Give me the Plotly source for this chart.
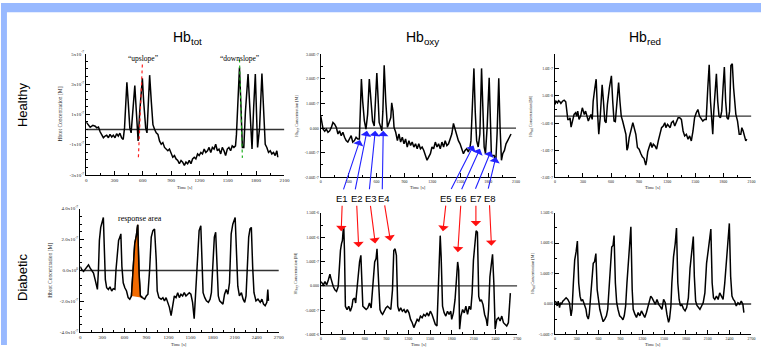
import numpy as np
import plotly.graph_objects as go

# ---------------- data (time in s, concentration in units of 1e-7 M) ----------------
HT_TOT_T = [0,25,42,70,95,112,130,147,165,182,200,217,235,252,270,287,305,322,340,357,375,392,406,420,431,445,462,476,490,504,515,525,539,550,567,581,595,609,630,644,658,672,690,707,725,742,760,777,795,812,830,847,865,882,900,917,935,952,970,987,1005,1022,1040,1057,1075,1092,1110,1127,1145,1162,1180,1197,1215,1232,1250,1267,1285,1302,1320,1337,1355,1372,1390,1407,1425,1442,1460,1477,1495,1512,1530,1547,1565,1582,1592,1606,1624,1638,1655,1670,1687,1715,1729,1746,1757,1774,1792,1816,1837,1862,1897,1914,1932,1950,1967,1985,2002,2020,2030]
HT_TOT_V = [0.49,0.28,0.15,0.28,0.22,0.11,0.17,-0.15,-0.32,-0.54,-0.43,-0.37,-0.54,-0.32,-0.49,-0.37,-0.54,-0.28,-0.43,-0.24,-0.54,-0.65,0.11,1.83,3.12,1.83,0.11,-0.22,0.97,2.26,2.90,1.83,-0.11,-0.75,1.18,2.69,3.38,1.83,0.11,-0.22,1.83,3.59,1.83,0.32,0,-0.22,-0.32,-0.75,-0.97,-0.86,-1.18,-1.29,-1.40,-1.29,-1.61,-1.83,-1.72,-1.94,-2.04,-2.26,-2.04,-2.15,-2.37,-2.15,-2.26,-2.04,-2.26,-1.94,-1.83,-1.94,-1.61,-1.72,-1.51,-1.61,-1.29,-1.51,-1.40,-1.18,-1.51,-1.18,-1.29,-0.97,-1.40,-1.29,-1.61,-1.18,-1.40,-1.72,-1.29,-1.18,-1.40,-1.08,-1.18,-1.08,-0.32,1.83,4.09,1.83,-1.18,-1.18,1.18,3.66,1.83,-0.75,-1.29,1.40,3.66,-1.18,0.11,3.70,-0.97,-1.18,-1.51,-1.40,-1.61,-1.51,-1.72,-1.40,-1.83]

HT_OXY_T = [0,11,25,43,60,78,96,114,131,149,167,185,202,220,238,256,273,291,309,327,344,362,380,398,415,426,437,451,469,486,504,522,540,557,575,593,603,618,628,646,657,668,682,699,717,735,753,763,777,788,806,824,841,859,877,895,912,930,948,966,983,1001,1019,1037,1054,1072,1090,1108,1125,1143,1161,1179,1196,1214,1232,1250,1267,1285,1303,1321,1338,1356,1374,1392,1409,1427,1438,1452,1463,1480,1498,1516,1534,1551,1569,1587,1605,1615,1629,1647,1661,1676,1693,1711,1729,1743,1757,1771,1789,1811,1825,1835,1864,1882,1896,1907,1914,1928,1943,1957,1975,1992,2010,2028,2046]
HT_OXY_V = [0.49,0.29,-0.04,-0.13,-0.04,-0.17,-0.11,0.03,0.23,0.16,0.03,-0.24,-0.11,-0.31,-0.17,-0.37,-0.51,-0.57,-0.44,-0.31,-0.57,-0.51,-0.37,-0.44,-0.44,1.09,2.0,1.09,0.29,-0.04,0.56,2.0,1.09,0.29,0.09,1.76,2.24,1.09,0.23,0.03,-0.11,0.69,2.56,1.09,0.03,0.23,0.43,1.03,0.69,0.03,-0.17,-0.51,-0.24,-0.57,-0.37,-0.64,-0.44,-0.77,-0.51,-0.71,-0.57,-0.77,-0.64,-0.84,-0.64,-0.84,-0.77,-0.91,-1.11,-1.31,-1.17,-1.04,-0.77,-0.84,-0.57,-0.77,-0.64,-0.84,-0.57,-0.77,-0.51,-0.71,-0.64,-0.37,-0.24,0.19,0.03,-0.17,-0.24,-0.51,-0.64,-0.84,-1.04,-0.91,-0.84,-0.97,-0.77,-0.51,1.09,2.43,0.69,-0.51,-0.77,-0.24,2.43,1.09,-0.77,-1.04,0.03,2.05,0.43,-1.11,-1.11,-1.37,-0.24,1.23,2.03,0.03,-1.31,-1.04,-0.91,-0.64,-0.51,-0.37,-0.24]

HT_RED_T = [0,11,28,39,53,64,81,99,116,127,138,152,162,173,187,205,222,233,244,258,275,293,304,314,328,339,357,371,385,399,409,427,441,455,469,484,505,519,533,547,561,582,604,618,632,646,667,681,695,709,724,738,759,770,780,794,808,822,833,847,865,882,900,918,935,953,971,981,992,1006,1024,1038,1052,1070,1087,1105,1123,1140,1158,1175,1186,1204,1218,1232,1246,1264,1281,1299,1317,1334,1352,1370,1387,1405,1423,1440,1458,1476,1493,1511,1528,1546,1564,1581,1599,1617,1634,1649,1663,1677,1687,1698,1712,1726,1740,1754,1769,1783,1797,1811,1825,1839,1853,1867,1881,1896,1910,1924,1934,1952,1970,1987,1998,2012,2023,2040,2051]
HT_RED_V = [0.21,0.27,0.24,0.28,0.26,0.23,0.27,0.29,0.26,0.09,-0.06,-0.06,-0.03,-0.20,-0.12,0.03,0.06,0,0.09,-0.06,0,0.15,0.09,0.03,0.09,0,-0.09,-0.03,0.03,-0.06,0.27,0.51,0.67,0.09,-0.33,-0.03,0.57,0.27,-0.09,-0.12,0.21,0.51,0.73,0.27,-0.09,-0.10,0.27,0.61,0.27,0,-0.09,-0.18,-0.33,-0.62,-0.57,-0.39,-0.30,-0.18,-0.12,-0.21,-0.33,-0.57,-0.60,-0.68,-0.74,-0.77,-0.89,-0.80,-0.65,-0.57,-0.48,-0.57,-0.51,-0.54,-0.60,-0.45,-0.33,-0.21,-0.18,-0.12,-0.21,-0.15,-0.18,-0.21,-0.12,-0.09,-0.18,-0.09,-0.03,-0.03,-0.06,-0.27,-0.36,-0.33,-0.42,-0.36,-0.45,-0.27,-0.03,0.06,0.12,0,-0.06,-0.09,-0.06,-0.06,0.51,0.93,0.27,-0.18,-0.33,0.09,0.51,0.77,0.27,0,-0.03,0.09,0.51,0.89,0.27,-0.03,-0.06,0.09,0.92,0.95,0.51,0.15,0.03,-0.09,-0.33,-0.33,-0.21,-0.27,-0.36,-0.45,-0.42]

DB_TOT_T = [0,22,45,67,90,112,135,157,180,202,216,233,247,260,278,296,314,328,341,359,382,404,427,449,471,485,503,521,539,552,566,584,606,629,651,673,696,718,741,763,781,799,817,844,876,898,920,943,965,988,1010,1033,1046,1069,1100,1123,1145,1167,1190,1212,1235,1257,1279,1302,1325,1347,1369,1392,1414,1437,1459,1482,1504,1527,1549,1572,1594,1616,1639,1652,1670,1693,1715,1742,1765,1783,1805,1823,1841,1859,1877,1895,1917,1940,1962,1985,2007,2029,2052,2074,2106,2124,2142,2164,2191,2214,2236,2254,2272,2290,2308,2326,2344,2362,2389,2416,2447,2470,2492,2514,2537,2550,2559]
DB_TOT_V = [0.25,0.04,-0.06,0.08,0.25,0.36,0.15,0,-0.17,-0.59,-1.02,-1.23,0.04,1.95,2.79,3.22,3.43,1.31,-0.59,-1.12,-1.23,-1.06,-1.33,-1.18,-1.23,0,1.31,1.95,2.16,2.37,0.25,-0.80,-1.12,-1.33,-1.76,-1.86,-1.65,0,1.74,2.26,2.96,-0.17,-1.65,-1.76,-1.86,-1.65,-1.54,0.04,2.16,2.58,2.69,0.68,-1.33,-1.76,-1.86,-1.76,-1.97,-1.76,-2.07,-2.39,-2.92,-2.29,-1.65,-1.76,-1.44,-1.76,-1.54,-1.65,-1.44,-1.65,-1.54,-1.44,-1.54,-2.07,-3.13,-1.23,1.31,2.58,2.90,0.68,-1.44,-1.76,-1.97,-2.07,-1.86,-1.44,0.89,2.16,2.48,0.47,-1.65,-1.97,-2.07,-2.18,-1.54,-1.23,-1.54,-0.80,2.37,3.00,3.43,1.52,-1.02,-1.65,-1.44,-1.86,-2.07,-1.65,0.89,2.16,2.69,2.79,0.25,-1.44,-1.97,-1.86,-2.07,-1.86,-2.18,-2.29,-2.07,-1.23,-1.97]

DB_OXY_T = [0,14,32,54,77,100,122,136,154,168,190,213,236,249,267,281,294,304,313,322,335,358,381,403,426,439,462,476,494,512,530,548,562,575,598,621,643,666,689,702,720,738,757,770,793,811,829,847,870,892,915,938,960,983,1001,1019,1037,1055,1074,1096,1119,1142,1164,1187,1210,1232,1255,1277,1300,1323,1345,1368,1391,1413,1436,1459,1481,1504,1527,1549,1572,1595,1608,1626,1640,1653,1672,1694,1717,1740,1762,1785,1798,1821,1844,1862,1880,1894,1907,1925,1948,1971,1993,2016,2039,2061,2079,2097,2116,2134,2152,2170,2188,2206,2229,2251,2274,2288,2306,2324,2342,2360,2378,2396,2419,2442,2464,2487,2510,2532,2555,2578,2605]
DB_OXY_V = [0.88,0.54,0.20,0.88,0.20,1.22,2.43,1.55,0.54,-0.14,-0.81,-1.15,-0.14,3.92,7.30,8.65,9.33,11.36,12.03,7.30,-4.19,-4.87,-4.19,-5.21,-4.19,-2.84,-2.50,-3.52,-0.14,3.24,4.93,6.29,-1.49,-4.19,-4.53,-4.87,-4.53,-3.52,-4.53,-1.49,2.57,4.93,5.61,7.64,0.54,-4.87,-5.54,-5.88,-5.21,-4.53,-4.19,-4.53,-4.87,-0.81,7.30,7.64,6.29,-4.19,-5.21,-4.53,-5.21,-4.87,-5.54,-4.87,-5.54,-6.90,-7.57,-8.59,-7.91,-6.90,-7.23,-6.22,-6.56,-5.88,-6.22,-5.54,-6.22,-5.21,-5.88,-6.90,-7.91,-8.25,-4.19,4.60,10.34,5.95,-4.19,-5.54,-6.22,-5.21,-5.88,-5.21,-6.90,-5.54,-2.84,2.57,4.93,3.24,-8.92,-6.22,-4.87,-5.54,-4.19,-5.88,-4.19,-4.87,-1.49,5.27,9.33,11.36,11.02,-2.16,-3.18,-2.84,-3.85,-5.88,-6.90,-8.25,-4.87,1.89,4.26,6.49,0.54,-8.92,-6.90,-6.56,-7.23,-6.22,-7.57,-7.91,-8.25,-7.57,-1.49]

DB_RED_T = [5,18,32,45,64,77,91,109,132,154,177,200,222,236,254,272,291,309,327,345,363,381,404,427,440,459,472,490,508,527,545,563,581,599,617,640,663,686,708,726,745,763,781,799,813,831,849,867,890,913,935,953,972,990,1008,1026,1044,1062,1076,1099,1121,1144,1167,1189,1212,1235,1258,1280,1298,1317,1335,1357,1380,1403,1426,1448,1471,1494,1516,1539,1562,1575,1594,1607,1630,1653,1671,1689,1707,1725,1743,1766,1789,1811,1834,1857,1880,1902,1916,1934,1952,1970,1993,2016,2038,2061,2084,2107,2129,2143,2161,2179,2197,2220,2243,2265,2288,2311,2334,2356,2379,2397,2415,2433,2452,2470,2492,2515,2538,2561,2583,2597]
DB_RED_V = [0.48,0.22,-0.32,0.48,-0.59,0.22,-0.05,0.48,0.75,1.02,0.75,0.22,-1.94,-0.86,3.44,7.20,8.55,10.32,3.44,1.29,0.48,0.75,-0.05,-0.86,-1.94,-2.47,-1.67,1.29,3.98,6.67,6.94,8.28,2.37,0.22,-0.86,-1.94,-2.90,-2.47,-1.94,-0.86,2.90,6.13,9.35,9.62,11.24,3.44,0.22,-0.86,-1.94,-2.20,-2.58,-1.94,-0.32,3.44,6.67,9.89,12.69,2.37,-0.86,-1.67,-2.20,-1.40,-1.94,-1.13,-1.67,-2.20,-1.40,-0.32,0.75,1.29,1.02,0.48,-0.05,0.75,-0.05,-0.43,-0.86,0.75,0.22,-1.67,-3.01,-2.47,-0.32,3.44,7.74,9.89,12.47,3.44,0.75,-0.32,-0.05,-0.75,-1.13,-0.59,1.02,5.86,9.09,11.07,4.52,0.48,-0.22,-0.59,-0.86,-0.32,0.22,1.83,6.67,8.82,10.70,12.31,3.44,1.02,0.75,1.29,0.75,1.83,1.29,0.75,3.44,7.20,10.97,13.23,4.52,1.29,0.75,0.48,-0.32,0.22,-0.05,0.48,-0.05,-1.40]

# response area (time window) on the diabetic Hb_tot curve
RESP_T0, RESP_T1 = 690, 850

# event markers
EVENT_LABELS = ["E1", "E2", "E3", "E4", "E5", "E6", "E7", "E8"]
BLUE_TIP_T = [422, 497, 586, 672, 1642, 1712, 1829, 1883]
BLUE_TIP_V = [-0.48, -0.11, -0.11, -0.11, -0.71, -0.84, -0.94, -1.18]
RED_TIP_T = [277, 518, 746, 955, 1677, 1882, 2131, 2345]
RED_TIP_V = [11.26, 7.94, 8.74, 9.26, 11.26, 6.94, 12.26, 8.26]
UPSLOPE_T = [595, 553]
UPSLOPE_V = [4.30, -1.83]
DOWNSLOPE_T = [1624, 1655]
DOWNSLOPE_V = [4.62, -1.87]

TOP_XTICKS = [0, 300, 600, 900, 1200, 1500, 1800, 2100]
BOT_XTICKS = [0, 300, 600, 900, 1200, 1500, 1800, 2100, 2400, 2700]

# ---------------- layout helpers ----------------
W, H = 767, 348
U = 1e-7
SERIF = "Liberation Serif, Times New Roman, serif"
SANS = "Liberation Sans, Arial, sans-serif"


def px(x):
    return x / W


def py(y):
    return 1 - y / H


fig = go.Figure()

panels = [
    ("1", HT_TOT_T, HT_TOT_V, (86, 286), (51.7, 175), 2100),
    ("2", HT_OXY_T, HT_OXY_V, (322.7, 519.8), (52.3, 177.3), 2100),
    ("3", HT_RED_T, HT_RED_V, (559, 757.3), (52.3, 177.3), 2100),
    ("4", DB_TOT_T, DB_TOT_V, (80, 280.4), (209.3, 335), 2700),
    ("5", DB_OXY_T, DB_OXY_V, (323, 521), (213.7, 337.3), 2700),
    ("6", DB_RED_T, DB_RED_V, (559, 757.3), (213.3, 337.3), 2700),
]

yspecs = {
    "1": dict(range=[-3e-7, 5e-7], tickvals=[-3e-7, -1e-7, 1e-7, 3e-7, 5e-7],
              ticktext=["-3x10<sup>-7</sup>", "-1x10<sup>-7</sup>", "1x10<sup>-7</sup>", "3x10<sup>-7</sup>", "5x10<sup>-7</sup>"],
              minor=dict(tickmode="linear", tick0=-3e-7, dtick=0.5e-7), fs=5),
    "2": dict(range=[-2e-7, 3e-7], tickvals=[-2e-7, -1e-7, 0, 1e-7, 2e-7, 3e-7],
              ticktext=["-2.00E-7", "-1.00E-7", "0.000", "1.00E-7", "2.00E-7", "3.00E-7"],
              minor=dict(tickmode="linear", tick0=-2e-7, dtick=0.5e-7), fs=4),
    "3": dict(range=[-1.11e-7, 1.12e-7], tickvals=[0.87e-7, 0.37e-7, -0.13e-7, -0.62e-7, -1.11e-7],
              ticktext=["1.0E-7", "5.0E-8", "-5.0E-8", "-1.0E-7", "-2.0E-7"],
              minor=dict(tickmode="array", tickvals=[1.12e-7, 0.62e-7, 0.12e-7, -0.375e-7, -0.865e-7]), fs=4),
    "4": dict(range=[-4e-7, 4e-7], tickvals=[-4e-7, -2e-7, 0, 2e-7, 4e-7],
              ticktext=["-4.0x10<sup>-7</sup>", "-2.0x10<sup>-7</sup>", "0.0x10<sup>0</sup>", "2.0x10<sup>-7</sup>", "4.0x10<sup>-7</sup>"],
              minor=dict(tickmode="linear", tick0=-4e-7, dtick=0.5e-7), fs=5),
    "5": dict(range=[-1e-6, 1.5e-6], tickvals=[-1e-6, -5e-7, 0, 5e-7, 1e-6, 1.5e-6],
              ticktext=["-1.00E-6", "-5.00E-7", "0.000", "5.00E-7", "1.00E-6", "1.50E-6"],
              minor=dict(tickmode="linear", tick0=-1e-6, dtick=2.5e-7), fs=4),
    "6": dict(range=[-5e-7, 1.5e-6], tickvals=[-5e-7, 0, 5e-7, 1e-6, 1.5e-6],
              ticktext=["-5.00E-7", "0.000", "5.00E-7", "1.00E-6", "1.50E-6"],
              minor=dict(tickmode="linear", tick0=-5e-7, dtick=2.5e-7), fs=4),
}

shapes = []
annotations = []
layout_axes = {}

for name, t, v, (x0, x1), (ytop, ybot), xmax in panels:
    xa = "x" if name == "1" else "x" + name
    ya = "y" if name == "1" else "y" + name
    fig.add_trace(go.Scatter(x=t, y=np.array(v) * U, mode="lines",
                             line=dict(color="black", width=1.5),
                             xaxis=xa, yaxis=ya, showlegend=False, hoverinfo="skip"))
    ys = yspecs[name]
    xticks = TOP_XTICKS if xmax == 2100 else BOT_XTICKS
    layout_axes["xaxis" + ("" if name == "1" else name)] = dict(
        domain=[px(x0), px(x1)], range=[0, xmax], anchor=ya,
        showline=True, linecolor="black", linewidth=1.3, showgrid=False, zeroline=False,
        ticks="inside", ticklen=4, tickwidth=1, tickcolor="black",
        tickmode="array", tickvals=xticks, ticktext=[str(k) for k in xticks],
        minor=dict(ticks="inside", ticklen=2, tickmode="linear", tick0=0, dtick=150, tickcolor="black"),
        tickfont=dict(family=SERIF, size=ys["fs"], color="#222"), fixedrange=True)
    layout_axes["yaxis" + ("" if name == "1" else name)] = dict(
        domain=[py(ybot), py(ytop)], range=ys["range"], anchor=xa,
        showline=True, linecolor="black", linewidth=1.3, showgrid=False, zeroline=False,
        ticks="inside", ticklen=4, tickwidth=1, tickcolor="black",
        tickmode="array", tickvals=ys["tickvals"], ticktext=ys["ticktext"],
        minor=dict(ticks="inside", ticklen=2, tickcolor="black", **ys["minor"]),
        tickfont=dict(family=SERIF, size=ys["fs"], color="#222"), fixedrange=True)
    shapes.append(dict(type="line", xref=xa, yref=ya, x0=0, x1=xmax, y0=0, y1=0,
                       line=dict(color="#333", width=1.4), layer="below"))

# response area fill
rt = np.array(DB_TOT_T)
rv = np.array(DB_TOT_V)
m = (rt >= RESP_T0) & (rt <= RESP_T1)
fig.add_trace(go.Scatter(x=rt[m], y=rv[m] * U, mode="lines", fill="toself",
                         fillcolor="#f26a00", line=dict(color="#f26a00", width=0.5),
                         xaxis="x4", yaxis="y4", showlegend=False, hoverinfo="skip"))
fig.add_trace(go.Scatter(x=rt[m], y=rv[m] * U, mode="lines", line=dict(color="black", width=1.5),
                         xaxis="x4", yaxis="y4", showlegend=False, hoverinfo="skip"))

# upslope / downslope markers
fig.add_trace(go.Scatter(x=UPSLOPE_T, y=np.array(UPSLOPE_V) * U, mode="lines",
                         line=dict(color="#ff2020", width=1.2, dash="dot"),
                         xaxis="x", yaxis="y", showlegend=False, hoverinfo="skip"))
fig.add_trace(go.Scatter(x=DOWNSLOPE_T, y=np.array(DOWNSLOPE_V) * U, mode="lines",
                         line=dict(color="#20b020", width=1.2, dash="dot"),
                         xaxis="x", yaxis="y", showlegend=False, hoverinfo="skip"))

# blue band frame
shapes.append(dict(type="rect", xref="paper", yref="paper", x0=0, x1=1, y0=py(9.5), y1=1,
                   fillcolor="#98b9ff", line=dict(width=0), layer="below"))
shapes.append(dict(type="rect", xref="paper", yref="paper", x0=0, x1=px(6), y0=0, y1=1,
                   fillcolor="#98b9ff", line=dict(width=0), layer="below"))


def txt(x, y, s, size, family=SANS, angle=0, color="black"):
    annotations.append(dict(x=px(x), y=py(y), xref="paper", yref="paper", text=s, showarrow=False,
                            textangle=angle, font=dict(family=family, size=size, color=color),
                            xanchor="center", yanchor="middle"))


# column / row titles
txt(188, 36, "Hb<sub>tot</sub>", 14)
txt(425, 36, "Hb<sub>oxy</sub>", 14)
txt(650, 36, "Hb<sub>red</sub>", 14)
txt(21, 103, "Healthy", 13, angle=-90)
txt(21, 279, "Diabetic", 13, angle=-90)

# axis titles
for xc, yc in [(186, 188), (421, 188), (658, 188), (180, 347), (422, 347), (658, 347)]:
    txt(xc, yc, "Time [s]", 4.5, family=SERIF, color="#222")
txt(60, 113, "Hbtot Concentration [M]", 5.5, family=SERIF, angle=-90, color="#222")
txt(299, 115, "Hb<sub>oxy</sub> Concentration [M]", 4.2, family=SERIF, angle=-90, color="#222")
txt(535, 115, "Hb<sub>red</sub> Concentration [M]", 4.2, family=SERIF, angle=-90, color="#222")
txt(50, 272, "Hbtot Concentration [M]", 5.5, family=SERIF, angle=-90, color="#222")
txt(298, 275, "Hb<sub>oxy</sub> Concentration [M]", 4.2, family=SERIF, angle=-90, color="#222")
txt(537, 275, "Hb<sub>red</sub> Concentration [M]", 4.2, family=SERIF, angle=-90, color="#222")

# in-plot labels
txt(143, 56, "\u201cupslope\u201d", 7.5, family=SERIF)
txt(241, 56, "\u201cdownslope\u201d", 7.5, family=SERIF)
txt(140, 219, "response area", 8, family=SERIF)

# event labels and arrows
E_LABEL_X = [344, 359, 373, 387, 449, 464, 479, 493]
BLUE_AX = [-17, -12, -6, -1, -23, -19, -16, -8]
BLUE_AY = [51, 60, 60, 60, 45, 42, 39, 33]
RED_AX = [1, -2, -5, -6, 3, 3, 0, -2]
RED_AY = [-27, -43, -39, -37, -27, -48, -22, -42]
for i, lab in enumerate(EVENT_LABELS):
    txt(E_LABEL_X[i], 198.5, lab, 9.5)
    annotations.append(dict(x=BLUE_TIP_T[i], y=BLUE_TIP_V[i] * U, xref="x2", yref="y2", text="",
                            showarrow=True, ax=BLUE_AX[i], ay=BLUE_AY[i], arrowhead=1, arrowsize=1.6,
                            arrowwidth=1.1, arrowcolor="#2222ff"))
    annotations.append(dict(x=RED_TIP_T[i], y=RED_TIP_V[i] * U, xref="x5", yref="y5", text="",
                            showarrow=True, ax=RED_AX[i], ay=RED_AY[i], arrowhead=1, arrowsize=1.6,
                            arrowwidth=1.1, arrowcolor="#ff1010"))

fig.update_layout(width=W, height=H, margin=dict(l=0, r=0, t=0, b=0),
                  paper_bgcolor="white", plot_bgcolor="white",
                  shapes=shapes, annotations=annotations, **layout_axes)

fig.write_html("out.html")
